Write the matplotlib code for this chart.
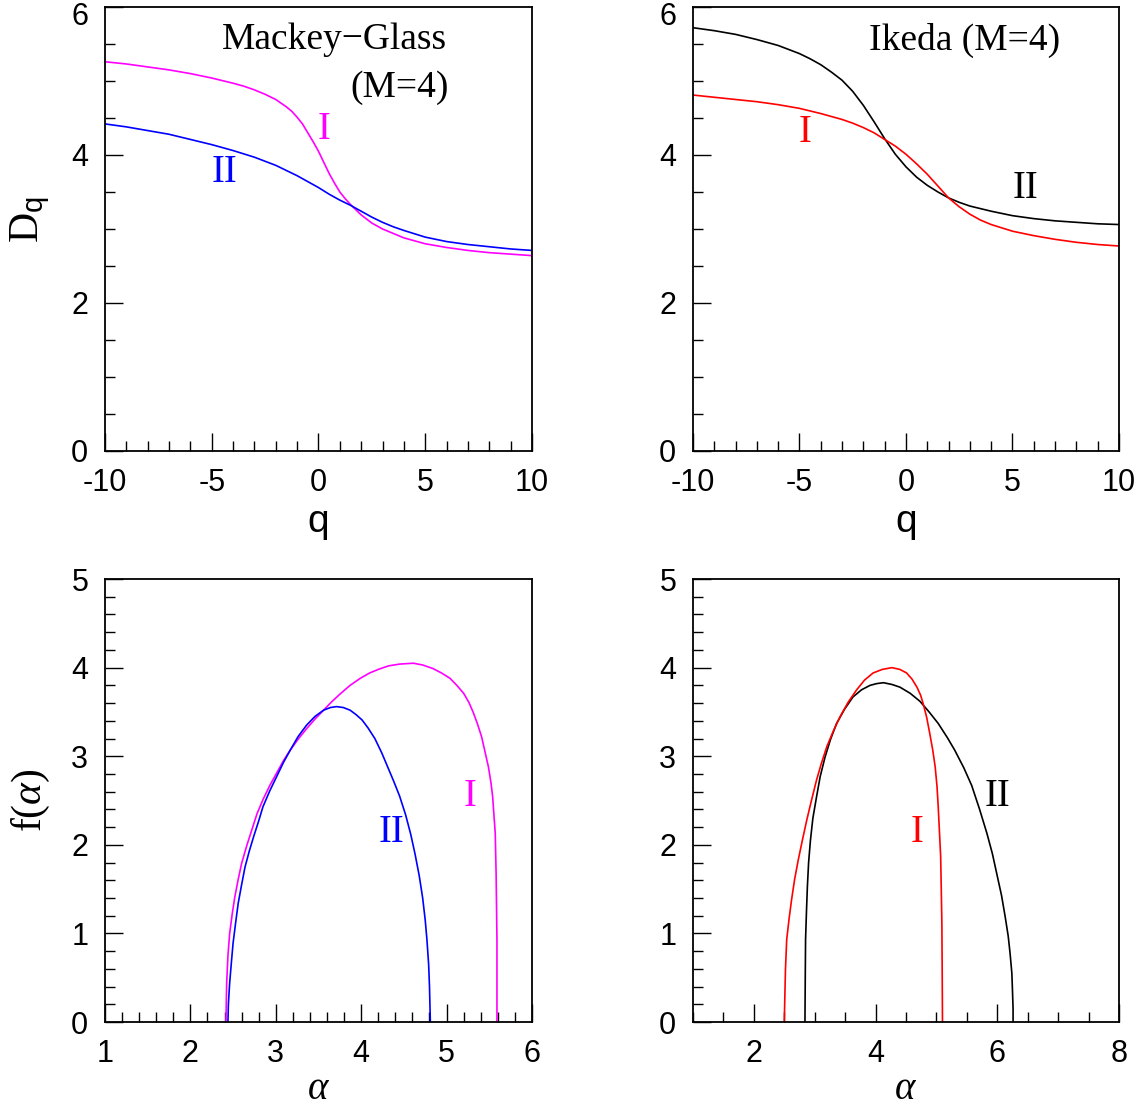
import matplotlib
matplotlib.use("Agg")
import matplotlib.pyplot as plt
from matplotlib.ticker import MultipleLocator
from matplotlib.transforms import ScaledTranslation

plt.rcParams['font.family'] = ['Liberation Sans', 'DejaVu Sans']
plt.rcParams['axes.unicode_minus'] = False
plt.rcParams['mathtext.fontset'] = 'custom'
plt.rcParams['mathtext.rm'] = 'Liberation Serif'
plt.rcParams['mathtext.it'] = 'Liberation Serif:italic'
plt.rcParams['mathtext.sf'] = 'Liberation Sans'

# Mackey-Glass D_q  (I = magenta, II = blue)
mg_q1 = [-10, -9, -8, -7, -6, -5, -4, -3.5, -3, -2.5, -2, -1.5, -1.25, -1, -0.75, -0.5,
         -0.25, 0, 0.25, 0.5, 0.75, 1, 1.25, 1.5, 1.75, 2, 2.5, 3, 3.5, 4, 5, 6, 7, 8, 9, 10]
mg_d1 = [5.26, 5.23, 5.19, 5.15, 5.10, 5.04, 4.97, 4.93, 4.88, 4.82, 4.75, 4.65, 4.59,
         4.51, 4.42, 4.30, 4.18, 4.05, 3.90, 3.75, 3.62, 3.50, 3.41, 3.33, 3.26, 3.19,
         3.08, 3.00, 2.94, 2.88, 2.80, 2.75, 2.71, 2.68, 2.66, 2.64]
mg_q2 = [-10, -9, -8, -7, -6, -5, -4, -3, -2, -1.5, -1, -0.5, 0, 0.5, 1, 1.5, 2, 2.5, 3,
         3.5, 4, 5, 6, 7, 8, 9, 10]
mg_d2 = [4.42, 4.38, 4.33, 4.28, 4.21, 4.14, 4.06, 3.97, 3.86, 3.79, 3.72, 3.64, 3.56,
         3.47, 3.39, 3.32, 3.24, 3.16, 3.09, 3.03, 2.98, 2.89, 2.83, 2.79, 2.76, 2.73, 2.71]

# Ikeda D_q  (I = red, II = black)
ik_q1 = [-10, -9, -8, -7, -6, -5, -4, -3, -2.5, -2, -1.5, -1, -0.5, 0, 0.5, 1, 1.5, 2,
         2.5, 3, 3.5, 4, 5, 6, 7, 8, 9, 10]
ik_d1 = [4.81, 4.78, 4.75, 4.72, 4.68, 4.63, 4.56, 4.48, 4.43, 4.37, 4.30, 4.21, 4.12,
         4.01, 3.88, 3.74, 3.58, 3.42, 3.30, 3.20, 3.12, 3.06, 2.97, 2.91, 2.86, 2.82,
         2.79, 2.77]
ik_q2 = [-10, -9, -8, -7, -6, -5, -4.5, -4, -3.5, -3, -2.5, -2, -1.5, -1, -0.5, 0, 0.5,
         1, 1.5, 2, 2.5, 3, 4, 5, 6, 7, 8, 9, 10]
ik_d2 = [5.72, 5.68, 5.63, 5.56, 5.48, 5.37, 5.30, 5.22, 5.12, 5.01, 4.86, 4.67, 4.45,
         4.22, 4.01, 3.84, 3.70, 3.59, 3.50, 3.42, 3.36, 3.31, 3.24, 3.18, 3.14, 3.11,
         3.09, 3.07, 3.06]

# Mackey-Glass f(alpha)
mg_a1 = [2.417, 2.42, 2.425, 2.44, 2.46, 2.49, 2.52, 2.56, 2.60, 2.66, 2.72, 2.78, 2.85,
         2.93, 3.01, 3.09, 3.17, 3.26, 3.36, 3.46, 3.56, 3.65, 3.75, 3.87, 3.99, 4.10,
         4.20, 4.32, 4.45, 4.61, 4.72, 4.84, 4.94, 5.04, 5.12, 5.20, 5.26, 5.31, 5.36,
         5.41, 5.45, 5.49, 5.52, 5.54, 5.555, 5.57, 5.575, 5.58, 5.585, 5.59, 5.59, 5.59]
mg_f1 = [0.0, 0.20, 0.44, 0.75, 1.00, 1.22, 1.41, 1.61, 1.79, 1.99, 2.17, 2.35, 2.51,
         2.67, 2.81, 2.95, 3.07, 3.19, 3.31, 3.42, 3.52, 3.61, 3.70, 3.80, 3.88, 3.94,
         3.98, 4.02, 4.04, 4.05, 4.03, 3.99, 3.94, 3.88, 3.80, 3.71, 3.61, 3.50, 3.37,
         3.22, 3.05, 2.88, 2.70, 2.54, 2.33, 2.13, 1.90, 1.68, 1.30, 0.93, 0.50, 0.0]
mg_a2 = [2.44, 2.445, 2.46, 2.48, 2.50, 2.53, 2.56, 2.60, 2.64, 2.69, 2.74, 2.80, 2.85,
         2.93, 3.01, 3.09, 3.17, 3.26, 3.36, 3.46, 3.56, 3.64, 3.71, 3.79, 3.87, 3.94,
         4.01, 4.08, 4.16, 4.24, 4.31, 4.38, 4.45, 4.52, 4.58, 4.63, 4.68, 4.72, 4.75,
         4.77, 4.79, 4.80, 4.81]
mg_f2 = [0.0, 0.20, 0.44, 0.67, 0.89, 1.12, 1.34, 1.55, 1.75, 1.93, 2.09, 2.27, 2.43,
         2.61, 2.77, 2.93, 3.07, 3.22, 3.35, 3.45, 3.52, 3.55, 3.56, 3.55, 3.52, 3.47,
         3.41, 3.32, 3.20, 3.04, 2.88, 2.72, 2.55, 2.34, 2.12, 1.90, 1.65, 1.40, 1.15,
         0.93, 0.65, 0.40, 0.0]

# Ikeda f(alpha)
ik_a1 = [2.50, 2.51, 2.52, 2.54, 2.58, 2.62, 2.67, 2.73, 2.80, 2.87, 2.95, 3.03, 3.11,
         3.20, 3.31, 3.42, 3.55, 3.69, 3.82, 3.96, 4.11, 4.27, 4.40, 4.51, 4.60, 4.68,
         4.74, 4.78, 4.84, 4.89, 4.94, 4.98, 5.01, 5.03, 5.05, 5.07, 5.08, 5.09, 5.095,
         5.10]
ik_f1 = [0.0, 0.30, 0.60, 0.93, 1.17, 1.38, 1.61, 1.83, 2.06, 2.28, 2.51, 2.73, 2.92,
         3.11, 3.29, 3.45, 3.61, 3.75, 3.86, 3.94, 3.98, 4.00, 3.98, 3.94, 3.87, 3.78,
         3.69, 3.60, 3.44, 3.26, 3.07, 2.88, 2.66, 2.43, 2.15, 1.87, 1.50, 1.11, 0.60,
         0.0]
ik_a2 = [2.84, 2.845, 2.85, 2.865, 2.88, 2.90, 2.93, 2.97, 3.03, 3.09, 3.17, 3.26, 3.36,
         3.49, 3.63, 3.77, 3.91, 4.02, 4.13, 4.27, 4.40, 4.57, 4.73, 4.88, 5.03, 5.18,
         5.30, 5.45, 5.58, 5.71, 5.83, 5.92, 5.99, 6.07, 6.13, 6.18, 6.21, 6.24, 6.25,
         6.26, 6.26]
ik_f2 = [0.0, 0.50, 0.93, 1.25, 1.53, 1.80, 2.05, 2.30, 2.54, 2.77, 2.99, 3.19, 3.37,
         3.53, 3.67, 3.75, 3.80, 3.82, 3.83, 3.81, 3.78, 3.71, 3.62, 3.50, 3.37, 3.21,
         3.07, 2.87, 2.67, 2.40, 2.13, 1.90, 1.68, 1.43, 1.19, 0.97, 0.78, 0.55, 0.36,
         0.15, 0.0]

MAG = '#ff00ff'
BLUE = '#0000ff'
RED = '#ff0000'
serif = 'Liberation Serif'

fig = plt.figure(figsize=(11.46, 11.11), dpi=100)
ax1 = fig.add_axes([0.0916, 0.5941, 0.3726, 0.3996])
ax2 = fig.add_axes([0.6047, 0.5941, 0.3717, 0.3996])
ax3 = fig.add_axes([0.0916, 0.0801, 0.3726, 0.3987])
ax4 = fig.add_axes([0.6047, 0.0801, 0.3717, 0.3987])


def style(ax, xlim, ylim, xmaj, xmin, ymaj, ymin):
    ax.set_xlim(*xlim)
    ax.set_ylim(*ylim)
    ax.xaxis.set_major_locator(MultipleLocator(xmaj))
    ax.xaxis.set_minor_locator(MultipleLocator(xmin))
    ax.yaxis.set_major_locator(MultipleLocator(ymaj))
    ax.yaxis.set_minor_locator(MultipleLocator(ymin))
    ax.tick_params(which='both', direction='in', top=False, right=False, width=1.0)
    ax.tick_params(which='major', length=13, labelsize=22)
    ax.tick_params(which='minor', length=7)
    ax.tick_params(axis='x', which='major', pad=12)
    ax.tick_params(axis='y', which='major', pad=12)
    for s in ax.spines.values():
        s.set_linewidth(1.3)


lw = 1.2
ax1.plot(mg_q1, mg_d1, color=MAG, lw=lw)
ax1.plot(mg_q2, mg_d2, color=BLUE, lw=lw)
style(ax1, (-10, 10), (0, 6), 5, 1, 2, 0.5)
ax1.text(0.75, 5.56, 'Mackey\u2212Glass', family=serif, fontsize=27, ha='center', va='center')
ax1.text(3.8, 4.91, '(M=4)', family=serif, fontsize=27, ha='center', va='center')
ax1.text(0.28, 4.34, 'I', family=serif, fontsize=28, color=MAG, ha='center', va='center')
ax1.text(-4.4, 3.76, 'II', family=serif, fontsize=28, color=BLUE, ha='center', va='center')
ax1.set_xlabel('q', fontsize=28)
ax1.xaxis.set_label_coords(0.5, -0.12)
ax1.set_ylabel(r'$\mathrm{D}_{\mathsf{q}}$', fontsize=30)
ax1.yaxis.set_label_coords(-0.125, 0.52)

ax2.plot(ik_q2, ik_d2, color='black', lw=lw)
ax2.plot(ik_q1, ik_d1, color=RED, lw=lw)
style(ax2, (-10, 10), (0, 6), 5, 1, 2, 0.5)
ax2.text(2.77, 5.55, 'Ikeda (M=4)', family=serif, fontsize=27, ha='center', va='center')
ax2.text(-4.74, 4.30, 'I', family=serif, fontsize=28, color=RED, ha='center', va='center')
ax2.text(5.6, 3.55, 'II', family=serif, fontsize=28, color='black', ha='center', va='center')
ax2.set_xlabel('q', fontsize=28)
ax2.xaxis.set_label_coords(0.5, -0.12)

ax3.plot(mg_a1, mg_f1, color=MAG, lw=lw)
ax3.plot(mg_a2, mg_f2, color=BLUE, lw=lw)
style(ax3, (1, 6), (0, 5), 1, 0.2, 1, 0.2)
ax3.text(5.27, 2.54, 'I', family=serif, fontsize=28, color=MAG, ha='center', va='center')
ax3.text(4.35, 2.14, 'II', family=serif, fontsize=28, color=BLUE, ha='center', va='center')
ax3.set_xlabel(r'$\alpha$', fontsize=28)
ax3.xaxis.set_label_coords(0.5, -0.11)
ax3.set_ylabel(r'$\mathrm{f}(\alpha)$', fontsize=30)
ax3.yaxis.set_label_coords(-0.125, 0.5)

ax4.plot(ik_a2, ik_f2, color='black', lw=lw)
ax4.plot(ik_a1, ik_f1, color=RED, lw=lw)
style(ax4, (1, 8), (0, 5), 2, 0.5, 1, 0.2)
ax4.text(4.68, 2.14, 'I', family=serif, fontsize=28, color=RED, ha='center', va='center')
ax4.text(6.0, 2.54, 'II', family=serif, fontsize=28, color='black', ha='center', va='center')
ax4.set_xlabel(r'$\alpha$', fontsize=28)
ax4.xaxis.set_label_coords(0.5, -0.11)

# nudge the top "6" labels down so they stay inside the figure
fig.canvas.draw()
shift = ScaledTranslation(0, -4.7 / 72, fig.dpi_scale_trans)
for ax in (ax1, ax2):
    for t in ax.yaxis.get_major_ticks():
        if abs(t.get_loc() - 6) < 1e-9:
            t.label1.set_transform(t.label1.get_transform() + shift)

fig.savefig('out.png', dpi=100)
